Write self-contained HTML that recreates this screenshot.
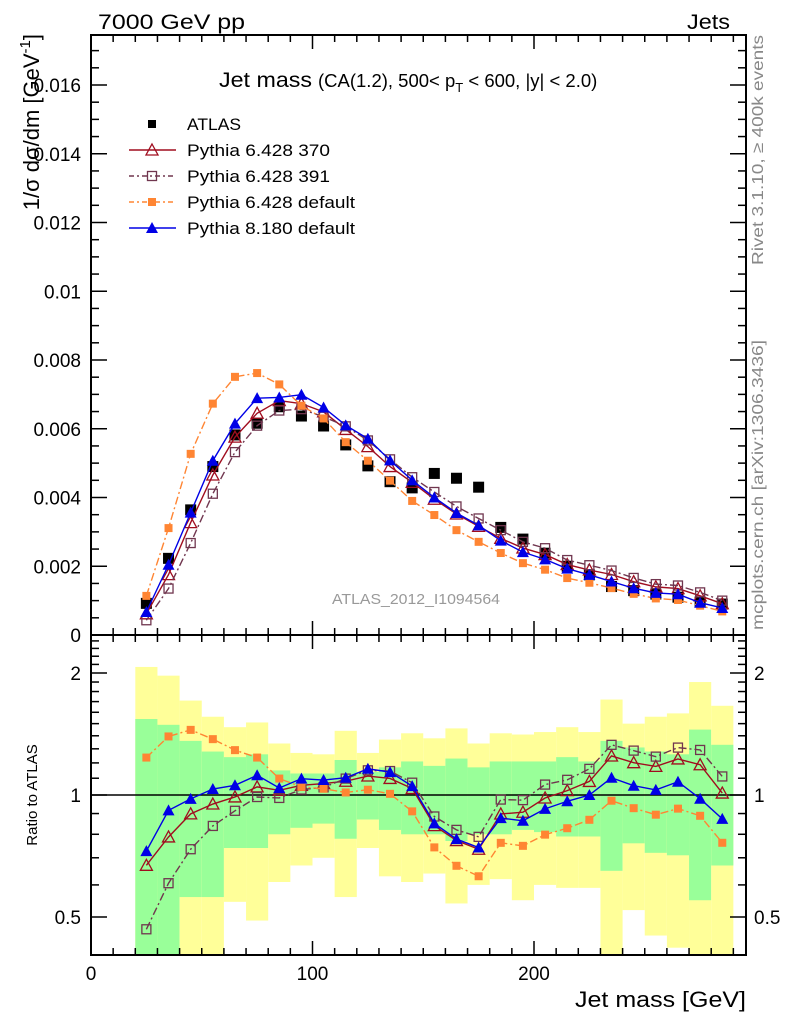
<!DOCTYPE html>
<html><head><meta charset="utf-8"><style>
body{margin:0;background:#fff;}
svg text{font-family:"Liberation Sans",sans-serif;}
</style></head><body>
<svg id="chart" width="786" height="1024" xmlns="http://www.w3.org/2000/svg">
<g id="bands"></g>
<g id="gridticks"></g>
<g id="series"></g>
<rect x="91" y="35" width="655" height="600" fill="none" stroke="#000" stroke-width="2"/>
<rect x="91" y="635" width="655" height="320" fill="none" stroke="#000" stroke-width="2"/>
<text x="98" y="29" font-size="21" textLength="147" lengthAdjust="spacingAndGlyphs">7000 GeV pp</text>
<text x="687" y="29" font-size="21" textLength="43" lengthAdjust="spacingAndGlyphs">Jets</text>
<text x="219" y="87" font-size="21"><tspan textLength="93" lengthAdjust="spacingAndGlyphs">Jet mass</tspan><tspan font-size="18.5" x="318">(CA(1.2), 500&lt; p</tspan><tspan font-size="13" dy="5">T</tspan><tspan font-size="18.5" dy="-5"> &lt; 600, |y| &lt; 2.0)</tspan></text>
<text transform="translate(39,34) rotate(-90)" font-size="22" text-anchor="end">1/σ dσ/dm [GeV<tspan font-size="15" dy="-9">-1</tspan><tspan dy="9">]</tspan></text>
<text transform="translate(37,795) rotate(-90)" font-size="15" text-anchor="middle">Ratio to ATLAS</text>
<text x="575" y="1007" font-size="22" textLength="171" lengthAdjust="spacingAndGlyphs">Jet mass [GeV]</text>
<text transform="translate(763,265) rotate(-90)" font-size="16" fill="#888" textLength="230" lengthAdjust="spacingAndGlyphs">Rivet 3.1.10, ≥ 400k events</text>
<text transform="translate(763,630) rotate(-90)" font-size="16" fill="#888" textLength="290" lengthAdjust="spacingAndGlyphs">mcplots.cern.ch [arXiv:1306.3436]</text>
<text x="332" y="604" font-size="15" fill="#999" textLength="168" lengthAdjust="spacingAndGlyphs">ATLAS_2012_I1094564</text>
<g id="legend"></g>
</svg>
<script>
const bins = [25,35,45,55,65,75,85,95,105,115,125,135,145,155,165,175,185,195,205,215,225,235,245,255,265,275,285];
const atlas = [0.92,2.23,3.64,4.9,5.82,6.16,6.64,6.37,6.08,5.53,4.92,4.46,4.28,4.70,4.56,4.30,3.13,2.79,2.38,2.0,1.75,1.41,1.29,1.19,1.10,0.96,0.90];
const p370 = [0.617,1.757,3.27,4.655,5.756,6.45,6.82,6.73,6.49,5.98,5.48,4.90,4.44,3.95,3.52,3.16,2.81,2.53,2.34,2.05,1.89,1.76,1.55,1.40,1.35,1.14,0.91];
const p391 = [0.429,1.351,2.675,4.11,5.32,6.09,6.53,6.57,6.35,6.07,5.66,5.11,4.59,4.16,3.74,3.39,3.05,2.71,2.525,2.18,2.03,1.875,1.66,1.48,1.44,1.24,1.00];
const p6def = [1.138,3.11,5.27,6.73,7.51,7.62,7.29,6.67,6.30,5.61,5.07,4.49,3.90,3.49,3.05,2.71,2.385,2.09,1.90,1.656,1.52,1.365,1.197,1.064,1.018,0.853,0.686];
const p8def = [0.669,2.043,3.56,5.07,6.15,6.89,6.91,6.99,6.62,6.10,5.71,5.08,4.50,4.00,3.55,3.19,2.745,2.41,2.20,1.93,1.75,1.555,1.36,1.225,1.186,0.94,0.786];
const yellowHi = [2.07,1.97,1.71,1.56,1.47,1.51,1.34,1.27,1.26,1.44,1.27,1.37,1.42,1.38,1.46,1.34,1.42,1.41,1.43,1.47,1.43,1.72,1.50,1.56,1.59,1.90,1.66];
const greenHi = [1.54,1.49,1.36,1.28,1.24,1.26,1.15,1.13,1.13,1.22,1.14,1.17,1.21,1.18,1.23,1.17,1.21,1.21,1.21,1.24,1.21,1.36,1.31,1.28,1.26,1.45,1.33];
const greenLo = [0.3,0.3,0.56,0.56,0.74,0.74,0.80,0.83,0.85,0.78,0.87,0.82,0.80,0.80,0.77,0.80,0.80,0.82,0.81,0.79,0.79,0.65,0.76,0.72,0.71,0.55,0.67];
const yellowLo = [0.3,0.3,0.3,0.3,0.545,0.49,0.61,0.67,0.70,0.56,0.74,0.63,0.61,0.64,0.54,0.60,0.62,0.55,0.60,0.59,0.59,0.3,0.52,0.45,0.42,0.3,0.3];
const yMainTicks = [0,2,4,6,8,10,12,14,16];
const yMainLabels = ["0","0.002","0.004","0.006","0.008","0.01","0.012","0.014","0.016"];
const xTicks = [0,100,200];
const ratioTicks = [0.5,1,2];

const NS="http://www.w3.org/2000/svg";
const X = v => 91 + v*2.215;
const Y = v => 635 - v*34.375;
const YR = r => { const y = 795 - Math.log2(r)*122; return Math.max(635, Math.min(955, y)); };
function mk(parent, tag, attrs){ const e=document.createElementNS(NS,tag); for(const k in attrs) e.setAttribute(k,attrs[k]); parent.appendChild(e); return e; }

const bandG=document.getElementById('bands');
bins.forEach((b,i)=>{
  const x0=X(b-5), w=X(b+5)-X(b-5);
  let e=mk(bandG,'rect',{x:x0,y:YR(yellowHi[i]),width:w,height:YR(yellowLo[i])-YR(yellowHi[i]),fill:'#ffff99'});
  
  
  e=mk(bandG,'rect',{x:x0,y:YR(greenHi[i]),width:w,height:YR(greenLo[i])-YR(greenHi[i]),fill:'#99ff99'});
  
  
});

const tg=document.getElementById('gridticks');
for(let v=0; v<=290; v+=10){
  const major = v%100===0; const L = major?14:7;
  [[35,1],[635,-1],[635,1],[955,-1]].forEach(([y0,d])=>{ mk(tg,'line',{x1:X(v),x2:X(v),y1:y0,y2:y0+d*L,stroke:'#000','stroke-width':1.5}); });
}
xTicks.forEach(v=>{ const t=mk(tg,'text',{x:X(v),y:980,'font-size':19,'text-anchor':'middle'}); t.textContent=v;
  
   });
for(let v=0; v<=17.4; v+=0.5){
  const major = Math.abs(v%2)<1e-6; const L=major?16:8;
  mk(tg,'line',{x1:91,x2:91+L,y1:Y(v),y2:Y(v),stroke:'#000','stroke-width':1.5});
  mk(tg,'line',{x1:746,x2:746-L,y1:Y(v),y2:Y(v),stroke:'#000','stroke-width':1.5});
}
yMainTicks.forEach((v,i)=>{ const t=mk(tg,'text',{x:81,y:Y(v)+7,'font-size':19,'text-anchor':'end'}); t.textContent=yMainLabels[i];
  
   });
[0.5,0.6,0.7,0.8,0.9,1,1.1,1.2,1.3,1.4,1.5,1.6,1.7,1.8,1.9,2,2.1,2.2,2.3,2.4].forEach(r=>{
  const major=ratioTicks.includes(r); const L=major?16:8;
  mk(tg,'line',{x1:91,x2:91+L,y1:YR(r),y2:YR(r),stroke:'#000','stroke-width':1.5});
  mk(tg,'line',{x1:746,x2:746-L,y1:YR(r),y2:YR(r),stroke:'#000','stroke-width':1.5});
});
ratioTicks.forEach(r=>{
  let t=mk(tg,'text',{x:81,y:YR(r)+7,'font-size':19,'text-anchor':'end'}); t.textContent=r;
  
  
  t=mk(tg,'text',{x:754,y:YR(r)+7,'font-size':19}); t.textContent=r;
  
  
});
mk(tg,'line',{x1:91,x2:746,y1:YR(1),y2:YR(1),stroke:'#000','stroke-width':1.5});

const sg=document.getElementById('series');
function marker(g,type,x,y,color){
  if(type==='sq') return mk(g,'rect',{x:x-4,y:y-4,width:8,height:8,fill:color});
  if(type==='bigsq') return mk(g,'rect',{x:x-5.5,y:y-5.5,width:11,height:11,fill:color});
  if(type==='osq') return mk(g,'rect',{x:x-4.5,y:y-4.5,width:9,height:9,fill:'none',stroke:color,'stroke-width':1.3});
  if(type==='otri') return mk(g,'path',{d:`M${x},${y-6}L${x+6},${y+5}L${x-6},${y+5}Z`,fill:'none',stroke:color,'stroke-width':1.3});
  return mk(g,'path',{d:`M${x},${y-6}L${x+6},${y+5}L${x-6},${y+5}Z`,fill:color});
}
const models=[
  {name:'pythia-6428-370',vals:p370,color:'#a00d1f',dash:'',m:'otri'},
  {name:'pythia-6428-391',vals:p391,color:'#70364f',dash:'8,3,2,3',m:'osq'},
  {name:'pythia-6428-default',vals:p6def,color:'#ff8533',dash:'8,3,2,3',m:'sq'},
  {name:'pythia-8180-default',vals:p8def,color:'#0000e6',dash:'',m:'ftri'}
];
bins.forEach((b,i)=>{ const e=marker(sg,'bigsq',X(b),Y(atlas[i]),'#000');
  
   });
models.forEach(s=>{
  const g=mk(sg,'g',{});
  
  
  const pm=bins.map((b,i)=>X(b)+','+Y(s.vals[i])).join(' ');
  const pr=bins.map((b,i)=>X(b)+','+YR(s.vals[i]/atlas[i])).join(' ');
  const a={fill:'none',stroke:s.color,'stroke-width':1.4}; if(s.dash) a['stroke-dasharray']=s.dash;
  mk(g,'polyline',Object.assign({points:pm},a));
  mk(g,'polyline',Object.assign({points:pr},a));
  bins.forEach((b,i)=>{
    let e=marker(g,s.m,X(b),Y(s.vals[i]),s.color);
    
    
    e=marker(g,s.m,X(b),YR(s.vals[i]/atlas[i]),s.color);
    
    
  });
});

const lg=document.getElementById('legend');
const legRows=[['ATLAS',null,54],['Pythia 6.428 370',models[0],143],['Pythia 6.428 391',models[1],143],['Pythia 6.428 default',models[2],168],['Pythia 8.180 default',models[3],168]];
legRows.forEach((r,i)=>{
  const y=124+i*26;
  const g=mk(lg,'g',{});
  
  
  if(r[1]){
    const a={x1:129,x2:176,y1:y,y2:y,stroke:r[1].color,'stroke-width':1.4}; if(r[1].dash) a['stroke-dasharray']='5,3,2,3';
    mk(g,'line',a); marker(g,r[1].m,152,y,r[1].color);
  } else marker(g,'sq',152,y,'#000');
  const t=mk(g,'text',{x:187,y:y+6,'font-size':17,textLength:r[2],lengthAdjust:'spacingAndGlyphs'}); t.textContent=r[0];
});
</script>
</body></html>
